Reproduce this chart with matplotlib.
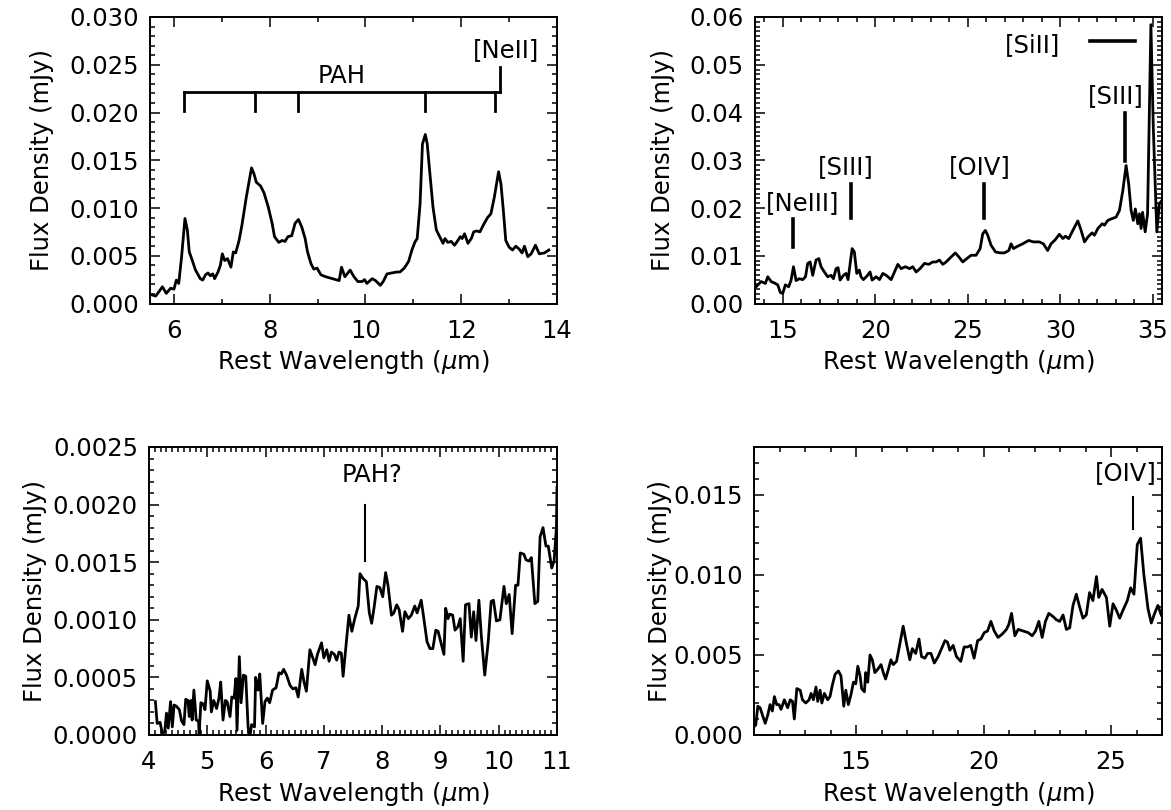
import matplotlib
matplotlib.use("Agg")
import matplotlib.pyplot as plt
from matplotlib.ticker import MultipleLocator, FormatStrFormatter

plt.rcParams['font.family'] = ['DejaVu Sans']
plt.rcParams['mathtext.fontset'] = 'dejavusans'

# ---------------- Panel 1 (5.5-14 um) ----------------
wave1 = [5.55, 5.62, 5.76, 5.84, 5.93, 6.00, 6.05, 6.10, 6.16, 6.23, 6.28, 6.32, 6.37, 6.45,
         6.55, 6.60, 6.66, 6.71, 6.76, 6.81, 6.85, 6.92, 6.97, 7.01, 7.06, 7.12, 7.19, 7.24,
         7.29, 7.36, 7.42, 7.51, 7.62, 7.67, 7.72, 7.81, 7.88, 7.97, 8.05, 8.10, 8.19, 8.26,
         8.32, 8.38, 8.46, 8.53, 8.60, 8.67, 8.74, 8.79, 8.86, 8.92, 8.99, 9.07, 9.17, 9.31,
         9.45, 9.50, 9.57, 9.68, 9.76, 9.84, 9.93, 9.98, 10.03, 10.14, 10.21, 10.31, 10.37,
         10.45, 10.55, 10.66, 10.72, 10.81, 10.90, 10.97, 11.03, 11.08, 11.14, 11.19, 11.25,
         11.29, 11.34, 11.41, 11.48, 11.55, 11.62, 11.66, 11.72, 11.79, 11.86, 11.93, 11.98,
         12.02, 12.07, 12.14, 12.21, 12.26, 12.32, 12.39, 12.46, 12.55, 12.62, 12.69, 12.78,
         12.83, 12.88, 12.93, 13.00, 13.07, 13.14, 13.21, 13.27, 13.32, 13.39, 13.46, 13.55,
         13.63, 13.74, 13.83]
flux1 = [0.00089, 0.00078, 0.00175, 0.00106, 0.0016, 0.0015, 0.00245, 0.0021, 0.0049, 0.0089,
         0.0077, 0.0054, 0.0047, 0.0035, 0.0026, 0.00245, 0.0030, 0.0032, 0.0029, 0.0031, 0.0026,
         0.0033, 0.0040, 0.0052, 0.0045, 0.0047, 0.0038, 0.0054, 0.0053, 0.0066, 0.0082, 0.0111,
         0.0142, 0.0136, 0.0127, 0.0123, 0.0116, 0.0101, 0.0084, 0.0070, 0.0064, 0.0066, 0.0065,
         0.0070, 0.0071, 0.0084, 0.0088, 0.0080, 0.0068, 0.0054, 0.0042, 0.0036, 0.0037, 0.0030,
         0.0028, 0.0026, 0.0024, 0.0038, 0.0028, 0.0035, 0.0028, 0.0023, 0.0023, 0.0025, 0.0021,
         0.0026, 0.0024, 0.0019, 0.0023, 0.0031, 0.0032, 0.0033, 0.0033, 0.0037, 0.0044, 0.0056,
         0.0064, 0.0068, 0.0104, 0.0167, 0.0177, 0.0167, 0.0139, 0.0101, 0.0077, 0.0070, 0.0063,
         0.0068, 0.0064, 0.0065, 0.0061, 0.0066, 0.0070, 0.0068, 0.0073, 0.0063, 0.0068, 0.0075,
         0.0076, 0.0075, 0.0082, 0.0090, 0.0094, 0.0111, 0.0138, 0.0125, 0.0097, 0.0066, 0.0059,
         0.0056, 0.0060, 0.0057, 0.0053, 0.0060, 0.0049, 0.0052, 0.0061, 0.0052, 0.0053, 0.0056]
pah_lines1 = [6.2, 7.7, 8.6, 11.25, 12.7]
neii_line1 = 12.8

# ---------------- Panel 2 (13.5-35.5 um) ----------------
wave2 = [13.56, 13.83, 14.06, 14.19, 14.37, 14.55, 14.73, 14.87, 15.00, 15.14, 15.32, 15.45,
         15.58, 15.72, 15.90, 16.08, 16.23, 16.35, 16.48, 16.62, 16.80, 16.95, 17.07, 17.25,
         17.43, 17.61, 17.74, 17.88, 17.99, 18.10, 18.28, 18.42, 18.53, 18.75, 18.87, 19.00,
         19.14, 19.23, 19.36, 19.54, 19.72, 19.83, 20.05, 20.23, 20.41, 20.59, 20.86, 21.04,
         21.22, 21.40, 21.63, 21.85, 22.03, 22.21, 22.42, 22.66, 22.89, 23.11, 23.29, 23.47,
         23.65, 23.83, 24.01, 24.33, 24.51, 24.73, 24.95, 25.18, 25.45, 25.67, 25.81, 25.95,
         26.08, 26.26, 26.50, 26.75, 26.98, 27.22, 27.34, 27.47, 27.70, 27.97, 28.29, 28.55,
         28.87, 29.09, 29.32, 29.50, 29.74, 29.95, 30.14, 30.28, 30.46, 30.68, 30.95, 31.13,
         31.31, 31.49, 31.72, 31.85, 32.03, 32.27, 32.39, 32.57, 32.75, 33.02, 33.20, 33.38,
         33.56, 33.70, 33.83, 33.95, 34.06, 34.19, 34.28, 34.37, 34.45, 34.59, 34.72, 34.90,
         35.03, 35.22, 35.36, 35.50]
flux2 = [0.0035, 0.0046, 0.0042, 0.0056, 0.0046, 0.0043, 0.0039, 0.0023, 0.0021, 0.0039, 0.0035,
         0.0049, 0.0077, 0.0048, 0.0052, 0.0050, 0.0056, 0.0084, 0.0087, 0.0059, 0.0091, 0.0094,
         0.0077, 0.0066, 0.0056, 0.0059, 0.0052, 0.0073, 0.0075, 0.0049, 0.0059, 0.0063, 0.0050,
         0.0115, 0.0108, 0.0063, 0.0070, 0.0056, 0.0050, 0.0057, 0.0066, 0.0049, 0.0056, 0.0050,
         0.0063, 0.0059, 0.0050, 0.0066, 0.0082, 0.0073, 0.0077, 0.0073, 0.0077, 0.0066, 0.0073,
         0.0084, 0.0082, 0.0087, 0.0087, 0.0091, 0.0082, 0.0087, 0.0094, 0.0106, 0.0098, 0.0087,
         0.0094, 0.0101, 0.0101, 0.0115, 0.0146, 0.0153, 0.0143, 0.0122, 0.0108, 0.0106, 0.0106,
         0.0111, 0.0125, 0.0115, 0.0120, 0.0125, 0.0132, 0.0129, 0.0129, 0.0125, 0.0111, 0.0125,
         0.0134, 0.0145, 0.0136, 0.0141, 0.0136, 0.0153, 0.0173, 0.0153, 0.0129, 0.0139, 0.0148,
         0.0143, 0.0157, 0.0167, 0.0164, 0.0174, 0.0177, 0.0181, 0.0195, 0.0236, 0.0289, 0.0250,
         0.0195, 0.0174, 0.0198, 0.0167, 0.0188, 0.0157, 0.0191, 0.0150, 0.0188, 0.0584, 0.0368,
         0.0150, 0.0209, 0.0216]
lines2 = [15.55, 18.71, 25.9, 33.5]
labels2 = ['[NeIII]', '[SIII]', '[OIV]', '[SIII]']

# ---------------- Panel 3 (4-11 um) ----------------
wave3 = [4.11, 4.14, 4.19, 4.23, 4.27, 4.30, 4.33, 4.37, 4.40, 4.43, 4.47, 4.52, 4.56, 4.60,
         4.63, 4.67, 4.69, 4.72, 4.74, 4.77, 4.81, 4.85, 4.86, 4.89, 4.93, 4.96, 5.00, 5.05,
         5.07, 5.11, 5.16, 5.20, 5.23, 5.27, 5.31, 5.34, 5.39, 5.42, 5.46, 5.49, 5.51, 5.55,
         5.58, 5.62, 5.66, 5.70, 5.73, 5.76, 5.81, 5.83, 5.87, 5.90, 5.95, 5.99, 6.03, 6.07,
         6.12, 6.18, 6.23, 6.27, 6.31, 6.36, 6.42, 6.47, 6.52, 6.56, 6.62, 6.66, 6.70, 6.76,
         6.81, 6.85, 6.89, 6.96, 7.00, 7.05, 7.09, 7.13, 7.18, 7.22, 7.26, 7.30, 7.33, 7.39,
         7.43, 7.48, 7.53, 7.59, 7.62, 7.67, 7.73, 7.78, 7.82, 7.86, 7.91, 7.96, 8.01, 8.06,
         8.10, 8.16, 8.20, 8.25, 8.29, 8.35, 8.39, 8.45, 8.50, 8.56, 8.60, 8.67, 8.71, 8.77,
         8.82, 8.87, 8.92, 8.96, 9.02, 9.06, 9.09, 9.13, 9.16, 9.21, 9.25, 9.30, 9.34, 9.39,
         9.43, 9.49, 9.53, 9.57, 9.61, 9.66, 9.70, 9.76, 9.82, 9.87, 9.91, 9.96, 10.02, 10.09,
         10.13, 10.18, 10.23, 10.29, 10.33, 10.37, 10.43, 10.47, 10.52, 10.56, 10.62, 10.67,
         10.71, 10.76, 10.81, 10.85, 10.91, 10.95, 10.99, 11.00]
flux3 = [0.00029, 0.00010, 0.00011, 0.00001, 0.00003, 0.00019, 0.00006, 0.00029, 0.00007,
         0.00026, 0.00025, 0.00022, 0.00012, 0.00009, 0.00031, 0.00030, 0.00016, 0.00030,
         0.00013, 0.00039, 0.00013, 0.00012, 0.00001, 0.00028, 0.00027, 0.00022, 0.00047,
         0.00038, 0.00020, 0.00030, 0.00023, 0.00032, 0.00046, 0.00013, 0.00030, 0.00029,
         0.00016, 0.00033, 0.00032, 0.00049, 0.00004, 0.00068, 0.00028, 0.00052, 0.00051,
         0.00007, -0.00002, 0.00009, 0.00007, 0.00050, 0.00039, 0.00053, 0.00010, 0.00029,
         0.00032, 0.00028, 0.00039, 0.00041, 0.00054, 0.00053, 0.00057, 0.00052, 0.00043,
         0.00040, 0.00041, 0.00033, 0.00057, 0.00046, 0.00038, 0.00074, 0.00067, 0.00061,
         0.00070, 0.00080, 0.00067, 0.00074, 0.00064, 0.00072, 0.00070, 0.00065, 0.00072,
         0.00071, 0.00051, 0.00083, 0.00104, 0.00090, 0.00101, 0.00112, 0.00140, 0.00136,
         0.00133, 0.00106, 0.00097, 0.00110, 0.00129, 0.00128, 0.00120, 0.00141, 0.00130,
         0.00104, 0.00106, 0.00113, 0.00109, 0.00090, 0.00107, 0.00101, 0.00104, 0.00112,
         0.00106, 0.00117, 0.00103, 0.00081, 0.00075, 0.00075, 0.00091, 0.00090, 0.00078,
         0.00070, 0.00110, 0.00101, 0.00105, 0.00104, 0.00091, 0.00094, 0.00101, 0.00064,
         0.00113, 0.00114, 0.00085, 0.00107, 0.00082, 0.00117, 0.00087, 0.00052, 0.00081,
         0.00116, 0.00117, 0.00099, 0.00100, 0.00129, 0.00114, 0.00122, 0.00088, 0.00130,
         0.00130, 0.00158, 0.00157, 0.00152, 0.00151, 0.00154, 0.00114, 0.00116, 0.00172,
         0.00180, 0.00164, 0.00164, 0.00145, 0.00151, 0.00180, 0.00215]
pah3_line = 7.7

# ---------------- Panel 4 (11-27 um) ----------------
wave4 = [11.00, 11.07, 11.15, 11.24, 11.33, 11.44, 11.54, 11.63, 11.72, 11.80, 11.89, 11.98,
         12.06, 12.19, 12.32, 12.42, 12.51, 12.58, 12.68, 12.81, 12.90, 13.03, 13.16, 13.24,
         13.33, 13.43, 13.50, 13.59, 13.66, 13.76, 13.89, 13.98, 14.07, 14.18, 14.31, 14.41,
         14.52, 14.60, 14.70, 14.80, 14.90, 14.99, 15.07, 15.16, 15.22, 15.33, 15.38, 15.46,
         15.55, 15.64, 15.74, 15.85, 15.98, 16.07, 16.16, 16.27, 16.37, 16.46, 16.59, 16.72,
         16.85, 16.98, 17.11, 17.21, 17.34, 17.47, 17.57, 17.70, 17.81, 17.94, 18.07, 18.22,
         18.38, 18.49, 18.59, 18.68, 18.81, 18.94, 19.11, 19.24, 19.37, 19.50, 19.63, 19.77,
         19.90, 20.03, 20.16, 20.29, 20.42, 20.57, 20.73, 20.90, 20.99, 21.10, 21.23, 21.36,
         21.55, 21.75, 21.91, 22.04, 22.17, 22.30, 22.43, 22.56, 22.73, 22.86, 22.99, 23.12,
         23.25, 23.38, 23.51, 23.64, 23.77, 23.90, 24.03, 24.16, 24.29, 24.43, 24.52, 24.65,
         24.82, 24.95, 25.08, 25.21, 25.34, 25.47, 25.64, 25.77, 25.90, 26.03, 26.16, 26.29,
         26.45, 26.58, 26.71, 26.84, 26.97]
flux4 = [0.00052, 0.00063, 0.0018, 0.0017, 0.00125, 0.00073, 0.00125, 0.0019, 0.0015, 0.0024,
         0.0019, 0.0019, 0.0016, 0.0022, 0.0017, 0.0022, 0.0021, 0.0010, 0.0029, 0.0028, 0.0022,
         0.0020, 0.0022, 0.0026, 0.0022, 0.0030, 0.0021, 0.0028, 0.0020, 0.0026, 0.0022, 0.0024,
         0.0031, 0.0038, 0.0040, 0.0037, 0.0018, 0.0028, 0.0019, 0.0025, 0.0033, 0.0032, 0.0043,
         0.0037, 0.0029, 0.0027, 0.0039, 0.0033, 0.0050, 0.0047, 0.0039, 0.0041, 0.0044, 0.0039,
         0.0035, 0.0041, 0.0047, 0.0044, 0.0046, 0.0057, 0.0068, 0.0057, 0.0047, 0.0054, 0.0051,
         0.0060, 0.0049, 0.0048, 0.0051, 0.0051, 0.0045, 0.0049, 0.0055, 0.0059, 0.0058, 0.0053,
         0.0056, 0.0049, 0.0046, 0.0055, 0.0055, 0.0056, 0.0048, 0.0059, 0.0060, 0.0064, 0.0065,
         0.0071, 0.0065, 0.0061, 0.0063, 0.0066, 0.0069, 0.0076, 0.0062, 0.0066, 0.0065, 0.0064,
         0.0062, 0.0065, 0.0071, 0.0061, 0.0071, 0.0076, 0.0074, 0.0072, 0.0071, 0.0075, 0.0066,
         0.0067, 0.0081, 0.0088, 0.0080, 0.0073, 0.0075, 0.0089, 0.0084, 0.0099, 0.0086, 0.0091,
         0.0086, 0.0068, 0.0082, 0.0078, 0.0073, 0.0078, 0.0084, 0.0092, 0.0088, 0.0119, 0.0123,
         0.0100, 0.0079, 0.0070, 0.0076, 0.0081, 0.0075]
oiv4_line = 25.86

# ---------------- Figure ----------------
W, H = 1171, 810
fig = plt.figure(figsize=(W / 100, H / 100), dpi=100)
FS = 17.5
LW = 2.0


def make_ax(rect, xlim, ylim, xmin, ymaj, ymin, yfmt, xt, ylab_x):
    ax = fig.add_axes(rect)
    ax.set_xlim(*xlim)
    ax.set_ylim(*ylim)
    ax.set_xticks(xt)
    ax.xaxis.set_minor_locator(MultipleLocator(xmin))
    ax.yaxis.set_major_locator(MultipleLocator(ymaj))
    ax.yaxis.set_minor_locator(MultipleLocator(ymin))
    ax.yaxis.set_major_formatter(FormatStrFormatter(yfmt))
    ax.tick_params(which='both', direction='in', top=True, right=True, labelsize=FS, width=1.1)
    ax.tick_params(which='major', length=7)
    ax.tick_params(which='minor', length=3.5)
    ax.tick_params(axis='x', which='major', pad=11)
    ax.tick_params(axis='y', which='major', pad=8)
    for s in ax.spines.values():
        s.set_linewidth(1.4)
    ax.set_xlabel(r'Rest Wavelength ($\mu$m)', fontsize=FS, labelpad=4)
    ax.set_ylabel('Flux Density (mJy)', fontsize=FS)
    ax.yaxis.set_label_coords(ylab_x, 0.5)
    return ax


def rect(l, t, r, b):
    return [l / W, 1 - b / H, (r - l) / W, (b - t) / H]


# Panel 1
ax1 = make_ax(rect(150, 17, 557, 303.5), (5.5, 14), (0, 0.030), 1, 0.005, 0.001, '%.3f',
              [6, 8, 10, 12, 14], -0.236)
ax1.plot(wave1, flux1, color='black', lw=LW)
ax1.plot([pah_lines1[0], neii_line1], [0.0221, 0.0221], color='black', lw=LW)
for p in pah_lines1:
    ax1.plot([p, p], [0.0202, 0.0221], color='black', lw=LW)
ax1.plot([neii_line1, neii_line1], [0.0221, 0.0248], color='black', lw=LW)
ax1.text(9.5, 0.0238, 'PAH', fontsize=FS, ha='center', va='center')
ax1.text(12.93, 0.0265, '[NeII]', fontsize=FS, ha='center', va='center')

# Panel 2
ax2 = make_ax(rect(755, 17, 1162, 303.5), (13.5, 35.5), (0, 0.060), 1, 0.01, 0.001, '%.2f',
              [15, 20, 25, 30, 35], -0.196)
ax2.plot(wave2, flux2, color='black', lw=LW)
seg2 = [(0.0118, 0.0177), (0.018, 0.025), (0.018, 0.025), (0.0299, 0.040)]
txt2 = [(16.08, 0.0210), (18.42, 0.0285), (25.63, 0.0285), (33.02, 0.0434)]
for x, (y0, y1), lab, (tx, ty) in zip(lines2, seg2, labels2, txt2):
    ax2.plot([x, x], [y0, y1], color='black', lw=LW + 0.6)
    ax2.text(tx, ty, lab, fontsize=FS, ha='center', va='center')
ax2.text(28.5, 0.0542, '[SiII]', fontsize=FS, ha='center', va='center')
ax2.plot([31.6, 34.06], [0.0550, 0.0550], color='black', lw=LW + 0.6)

# Panel 3
ax3 = make_ax(rect(149, 447, 557, 735), (4, 11), (0, 0.0025), 0.1, 0.0005, 0.0001, '%.4f',
              [4, 5, 6, 7, 8, 9, 10, 11], -0.25)
ax3.plot(wave3, flux3, color='black', lw=LW)
ax3.plot([pah3_line, pah3_line], [0.00151, 0.0020], color='black', lw=1.5)
ax3.text(7.82, 0.00226, 'PAH?', fontsize=FS, ha='center', va='center')

# Panel 4
ax4 = make_ax(rect(754, 447, 1162, 735), (11, 27), (0, 0.018), 1, 0.005, 0.001, '%.3f',
              [15, 20, 25], -0.20)
ax4.plot(wave4, flux4, color='black', lw=LW)
ax4.plot([oiv4_line, oiv4_line], [0.0129, 0.0149], color='black', lw=1.5)
ax4.text(25.6, 0.0164, '[OIV]', fontsize=FS, ha='center', va='center')

fig.savefig('out.png', dpi=100)
